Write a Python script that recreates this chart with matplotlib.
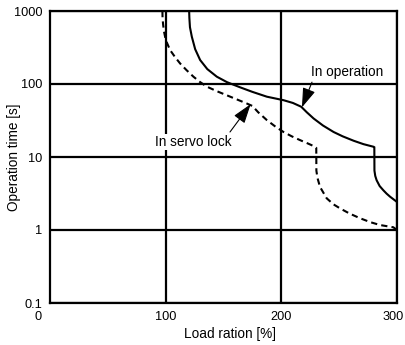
import matplotlib.pyplot as plt
import matplotlib.transforms as mtransforms

plt.rcParams['font.family'] = ['Liberation Sans', 'DejaVu Sans']

# Curva "In operation"
op_x = [120.3, 120.5, 121.0, 122.6, 125.5, 129.8, 136.0, 144.2, 153.0, 164.4, 175.0,
        187.5, 201.9, 210.0, 217.2, 222.0, 227.9, 236.0, 245.2, 253.0, 262.5, 271.0,
        279.8, 280.4, 280.5, 281.2, 282.4, 285.0, 288.2, 291.0, 294.0, 300.0]
op_y = [1000, 800, 600, 445, 300, 213, 160, 126, 106, 90, 78,
        67, 60, 55, 48.8, 41, 33.7, 27, 22, 19.2, 16.7, 15.0,
        13.8, 13.6, 6.5, 5.5, 4.8, 4.0, 3.5, 3.15, 2.86, 2.42]

# Curva "In servo lock"
sl_x = [97.2, 97.3, 97.8, 98.6, 100.1, 103.8, 108.0, 112.5, 118.0, 124.0, 129.5,
        135.6, 144.0, 152.9, 161.0, 170.2, 175.0, 180.0, 187.5, 195.0, 201.9, 209.0,
        216.3, 223.0, 229.3, 230.2, 230.3, 231.2, 233.4, 239.2, 245.0, 250.7, 259.0,
        268.0, 277.0, 285.3, 296.8, 300.0]
sl_y = [1000, 800, 650, 520, 400, 292, 235, 191, 155, 126, 107,
        92, 80, 70, 62, 54, 50, 41, 32, 26, 22, 19.2,
        17, 15.3, 13.8, 13.4, 6.5, 5.2, 3.9, 2.72, 2.25, 1.98, 1.68,
        1.45, 1.28, 1.17, 1.09, 1.0]

x_ticks = [100, 200, 300]
y_ticks = [0.1, 1, 10, 100, 1000]
y_labels = ["0.1", "1", "10", "100", "1000"]

fig = plt.figure(figsize=(4.06, 3.45), dpi=100)
ax = fig.add_axes([50 / 406, 42 / 345, 347 / 406, 292 / 345])

ax.plot(op_x, op_y, color='black', lw=1.5, solid_joinstyle='miter')
ax.plot(sl_x, sl_y, color='black', lw=1.5, dashes=(3, 2))

ax.set_yscale('log')
ax.set_xlim(0, 300)
ax.set_ylim(0.1, 1000)
ax.set_xticks(x_ticks)
ax.set_yticks(y_ticks)
ax.set_yticklabels(y_labels)
ax.minorticks_off()
ax.tick_params(length=0, labelsize=9.2)
ax.tick_params(axis='x', pad=6)
ax.tick_params(axis='y', pad=5.5)
ax.grid(True, color='black', lw=1.6)
for s in ax.spines.values():
    s.set_linewidth(1.6)

# el "300" se corre un poco para que no se corte en el borde
lbl = ax.xaxis.get_major_ticks()[-1].label1
lbl.set_transform(lbl.get_transform() + mtransforms.ScaledTranslation(-3 / 72, 0, fig.dpi_scale_trans))

# el "0" va desplazado a la izquierda del eje
ax.text(-10, 0.1, "0", ha='center', va='top', fontsize=9.2,
        transform=ax.transData + mtransforms.ScaledTranslation(0, -6 / 72, fig.dpi_scale_trans))

ax.set_xlabel("Load ration [%]", fontsize=9.8)
ax.xaxis.set_label_coords(0.519, -0.081)
ax.set_ylabel("Operation time [s]", fontsize=9.8)
ax.yaxis.set_label_coords(-0.085, 0.5)

# textos y flechas
arrow = dict(arrowstyle='-|>,head_length=1.2,head_width=0.4', color='black', lw=0.8,
             shrinkA=0, shrinkB=0)
ax.text(256.8, 146, "In operation", fontsize=9.8, ha='center', va='center')
ax.annotate("", xy=(217.8, 47.8), xytext=(226.5, 106), arrowprops=arrow)
ax.text(123.6, 16.0, "In servo lock", fontsize=9.8, ha='center', va='center',
        bbox=dict(boxstyle='square,pad=0.1', fc='white', ec='none'))
ax.annotate("", xy=(173.5, 53), xytext=(155.6, 22), arrowprops=arrow)

fig.savefig("out.png", dpi=100)
